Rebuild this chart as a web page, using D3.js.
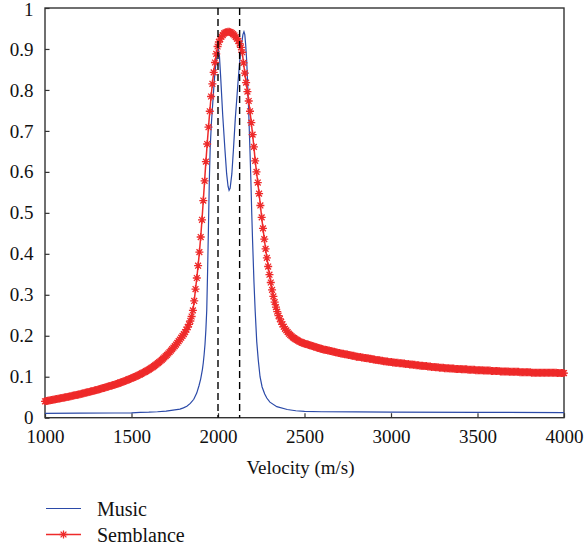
<!DOCTYPE html>
<html>
<head>
<meta charset="utf-8">
<script src="https://cdn.jsdelivr.net/npm/d3@7"></script>
<style>
  html, body { margin: 0; padding: 0; background: #fff; }
  svg { display: block; }
  text { font-family: "Liberation Serif", "Tinos", "DejaVu Serif", serif; fill: #111; }
</style>
</head>
<body>
<svg id="chart" width="584" height="550"></svg>
<script>
// Velocity-scan spectra: MUSIC and semblance against trial velocity (m/s)
const xTicks = [1000, 1500, 2000, 2500, 3000, 3500, 4000];
const yTicks = [0, 0.1, 0.2, 0.3, 0.4, 0.5, 0.6, 0.7, 0.8, 0.9, 1];
const trueVelocities = [2000, 2125];
const seriesNames = ["Music", "Semblance"];

// MUSIC pseudo-spectrum samples
const musicVelocity = [1000, 1200, 1400, 1500, 1550, 1600, 1650, 1700, 1750, 1780, 1800, 1820, 1840, 1860, 1877, 1890, 1900, 1910, 1915, 1920, 1925, 1930, 1935, 1940, 1945, 1950, 1955, 1962, 1970, 1980, 1990, 1996, 2002, 2008, 2015, 2027, 2040, 2050, 2058, 2064, 2070, 2080, 2089, 2100, 2108, 2115, 2123, 2130, 2137, 2144, 2150, 2155, 2160, 2166, 2172, 2178, 2185, 2190, 2195, 2200, 2208, 2215, 2224, 2233, 2243, 2255, 2270, 2282, 2300, 2340, 2400, 2450, 2500, 2600, 2800, 3000, 3500, 4000];
const musicValue = [0.0105, 0.011, 0.0115, 0.012, 0.013, 0.0135, 0.0145, 0.016, 0.019, 0.021, 0.024, 0.028, 0.035, 0.045, 0.060, 0.078, 0.095, 0.118, 0.134, 0.155, 0.180, 0.215, 0.263, 0.360, 0.470, 0.580, 0.660, 0.720, 0.770, 0.830, 0.875, 0.893, 0.900, 0.885, 0.835, 0.740, 0.655, 0.595, 0.565, 0.555, 0.560, 0.595, 0.653, 0.730, 0.775, 0.815, 0.857, 0.890, 0.914, 0.935, 0.942, 0.935, 0.910, 0.870, 0.810, 0.740, 0.650, 0.580, 0.500, 0.430, 0.330, 0.260, 0.185, 0.140, 0.100, 0.075, 0.058, 0.048, 0.038, 0.027, 0.020, 0.017, 0.0155, 0.0145, 0.014, 0.0135, 0.013, 0.0125];

// Semblance, sampled every 7.5 m/s from 1000 to 4000
const semblanceValue = [
  0.0400,0.0406,0.0412,0.0418,0.0424,0.0430,0.0436,0.0442,0.0448,0.0454,
  0.0460,0.0466,0.0472,0.0478,0.0485,0.0492,0.0499,0.0506,0.0512,0.0519,
  0.0526,0.0533,0.0540,0.0546,0.0553,0.0560,0.0567,0.0575,0.0583,0.0591,
  0.0599,0.0607,0.0615,0.0622,0.0630,0.0638,0.0646,0.0654,0.0662,0.0670,
  0.0678,0.0687,0.0697,0.0706,0.0716,0.0725,0.0734,0.0744,0.0753,0.0763,
  0.0772,0.0781,0.0791,0.0800,0.0810,0.0821,0.0832,0.0843,0.0854,0.0866,
  0.0878,0.0890,0.0902,0.0914,0.0927,0.0940,0.0953,
  0.0966,0.0980,0.0994,0.1008,0.1023,0.1038,0.1054,0.1070,0.1086,0.1103,
  0.1120,0.1138,0.1156,0.1175,0.1195,0.1216,0.1237,0.1259,0.1282,0.1306,
  0.1331,0.1357,0.1384,0.1412,0.1441,0.1471,0.1502,0.1534,0.1567,0.1601,
  0.1636,0.1672,0.1709,0.1747,0.1786,0.1826,0.1867,0.1909,0.1952,0.1996,
  0.204,0.209,0.215,0.221,0.228,0.236,0.247,0.262,0.285,
  0.314,0.341,0.371,0.404,0.441,0.483,0.530,0.578,0.625,0.668,
  0.709,0.748,0.784,0.815,0.843,0.867,0.888,0.906,
  0.917,0.924,0.930,0.934,0.938,0.940,0.941,0.942,0.942,0.941,
  0.939,0.936,0.933,0.929,0.925,0.920,0.913,0.904,
  0.892,0.866,0.841,0.818,0.796,0.773,0.748,0.720,0.691,0.661,
  0.627,0.600,0.574,0.547,0.518,0.489,0.462,0.436,0.412,0.390,
  0.369,0.349,0.330,0.312,0.296,
  0.282,0.270,0.259,0.249,0.241,0.234,0.228,0.222,0.217,0.213,
  0.209,0.205,0.202,0.199,0.196,0.194,0.192,0.190,0.188,0.186,
  0.185,0.183,0.182,0.181,
  0.180,0.179,0.178,0.177,0.176,0.175,0.174,0.173,0.172,0.171,
  0.170,0.169,0.168,0.167,0.166,0.166,0.165,0.164,0.164,0.163,
  0.162,0.161,0.161,0.160,0.159,0.158,0.158,0.157,0.156,0.156,
  0.155,0.155,0.154,0.153,0.153,0.152,0.151,0.151,0.150,0.149,
  0.149,0.148,0.148,0.147,0.147,0.146,0.146,0.145,0.145,0.144,
  0.144,0.143,0.142,0.142,0.141,0.141,0.140,0.140,0.139,0.139,
  0.138,0.138,0.137,0.137,0.136,0.136,0.136,0.135,0.135,0.134,
  0.134,0.134,0.133,0.133,0.133,0.132,0.132,0.131,0.131,0.131,
  0.130,0.130,0.130,0.129,0.129,0.128,0.128,0.128,0.127,0.127,
  0.127,0.126,0.126,0.126,0.125,0.125,0.125,0.124,0.124,0.124,
  0.123,0.123,0.123,0.122,0.122,0.122,0.122,0.121,0.121,0.121,
  0.121,0.120,0.120,0.120,0.120,0.119,0.119,0.119,0.119,0.119,
  0.118,0.118,0.118,0.118,0.118,0.117,0.117,0.117,0.117,0.117,
  0.117,0.116,0.116,0.116,0.116,0.116,0.116,0.115,0.115,0.115,
  0.115,0.115,0.115,0.114,0.114,0.114,0.114,0.114,0.114,0.114,
  0.113,0.113,0.113,0.113,0.113,0.113,0.113,0.112,0.112,0.112,
  0.112,0.112,0.112,0.112,0.112,0.111,0.111,0.111,0.111,0.111,
  0.111,0.111,0.111,0.111,0.110,0.110,0.110,0.110,0.110,0.110,
  0.110,0.110,0.110,0.110,0.110,0.110,0.110,0.110,0.110,0.110,
  0.110,0.110,0.110,0.110,0.109,0.109,0.109,0.109,0.109,0.109
];
const semblanceVelocity = semblanceValue.map((_, i) => 1000 + 7.5 * i);

const colors = { music: "#2b4aa8", semblance: "#ee2a2a", axis: "#333" };
const fontFamily = "'Liberation Serif', 'Tinos', 'DejaVu Serif', serif";

const svg = d3.select("#chart");
const plot = { left: 45, right: 564, top: 8, bottom: 417.7 };

const x = d3.scaleLinear().domain([1000, 4000]).range([plot.left, plot.right]);
const y = d3.scaleLinear().domain([0, 1]).range([plot.bottom, plot.top]);

// Axes with inward ticks on left and bottom
const xAxis = d3.axisBottom(x).tickValues(xTicks).tickFormat(d3.format("d"))
  .tickSizeInner(-4.5).tickSizeOuter(0).tickPadding(12);
const yAxis = d3.axisLeft(y).tickValues(yTicks).tickFormat(d => String(d))
  .tickSizeInner(-4.5).tickSizeOuter(0).tickPadding(11.5);

const gx = svg.append("g").attr("transform", `translate(0,${plot.bottom})`).call(xAxis);
const gy = svg.append("g").attr("transform", `translate(${plot.left},0)`).call(yAxis);
[gx, gy].forEach(g => {
  g.attr("font-family", fontFamily);
  g.select(".domain").remove();
  g.selectAll(".tick line").attr("stroke", colors.axis).attr("stroke-width", 1.2);
  g.selectAll(".tick text").attr("font-size", 19).attr("fill", "#111");
});
gy.selectAll(".tick text").filter(d => d === 1).attr("dy", "0.4em");

// Frame
svg.append("rect")
  .attr("x", plot.left).attr("y", plot.top)
  .attr("width", plot.right - plot.left).attr("height", plot.bottom - plot.top)
  .attr("fill", "none").attr("stroke", colors.axis).attr("stroke-width", 1.4);

// MUSIC curve
const musicLine = d3.line().x((d, i) => x(musicVelocity[i])).y(d => y(d));
svg.append("path").datum(musicValue)
  .attr("d", musicLine).attr("fill", "none")
  .attr("stroke", colors.music).attr("stroke-width", 1.2);

// Semblance curve with asterisk markers
const asterisk = "M-4,0H4M0,-4V4M-2.9,-2.9L2.9,2.9M-2.9,2.9L2.9,-2.9";
const sembLine = d3.line().x((d, i) => x(semblanceVelocity[i])).y(d => y(d));
svg.append("path").datum(semblanceValue)
  .attr("d", sembLine).attr("fill", "none")
  .attr("stroke", colors.semblance).attr("stroke-width", 1.5);
svg.append("g").selectAll("path").data(semblanceValue).join("path")
  .attr("transform", (d, i) => `translate(${x(semblanceVelocity[i])},${y(d)})`)
  .attr("d", asterisk).attr("fill", "none")
  .attr("stroke", colors.semblance).attr("stroke-width", 1.3);

// Reference velocities
svg.append("g").selectAll("line").data(trueVelocities).join("line")
  .attr("x1", d => x(d)).attr("x2", d => x(d))
  .attr("y1", y(1)).attr("y2", y(0))
  .attr("stroke", "#000").attr("stroke-width", 1.4)
  .attr("stroke-dasharray", "7,4");

// Axis title
svg.append("text")
  .attr("x", (plot.left + plot.right) / 2 - 4).attr("y", 474)
  .attr("text-anchor", "middle").attr("font-size", 19)
  .attr("font-family", fontFamily)
  .text("Velocity (m/s)");

// Legend
const legend = svg.append("g").attr("font-family", fontFamily);
const legendRows = [
  { name: seriesNames[0], color: colors.music, marker: false, y: 508.5 },
  { name: seriesNames[1], color: colors.semblance, marker: true, y: 534.5 }
];
legendRows.forEach(r => {
  legend.append("line").attr("x1", 46).attr("x2", 81).attr("y1", r.y).attr("y2", r.y)
    .attr("stroke", r.color).attr("stroke-width", r.marker ? 1.5 : 1.2);
  if (r.marker) {
    legend.append("path").attr("d", asterisk)
      .attr("transform", `translate(63.5,${r.y})`)
      .attr("fill", "none").attr("stroke", r.color).attr("stroke-width", 1.3);
  }
  legend.append("text").attr("x", 97).attr("y", r.y + 7)
    .attr("font-size", 20).text(r.name);
});
</script>
</body>
</html>
